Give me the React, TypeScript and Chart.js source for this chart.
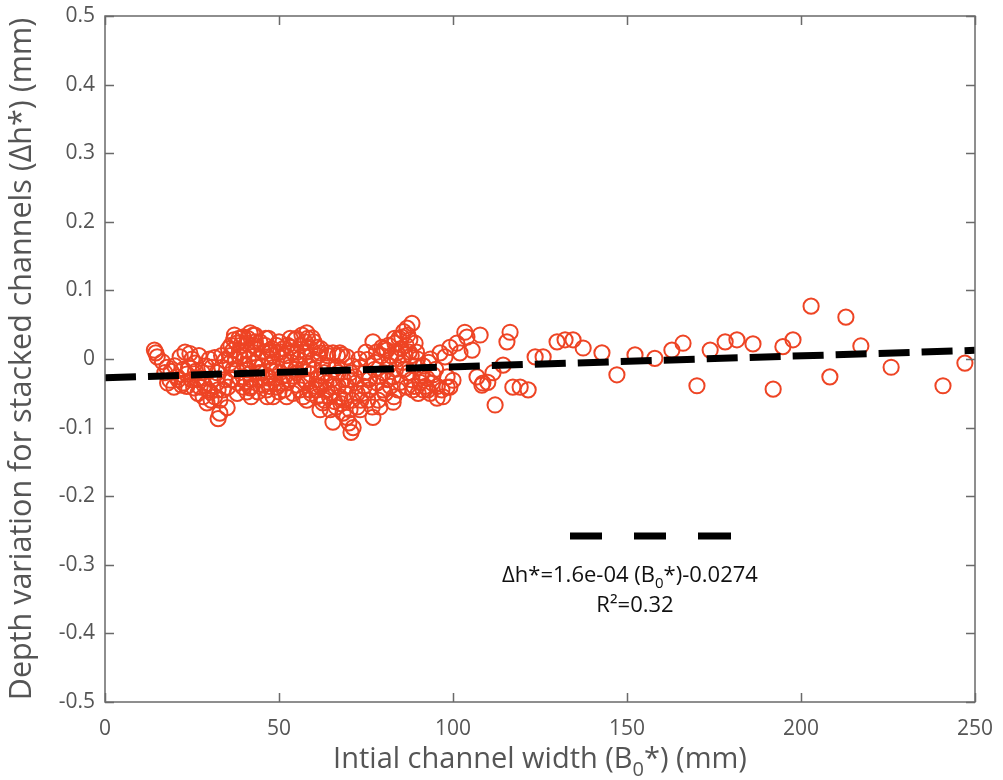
import React, { useEffect, useRef } from 'react';
import { Chart, registerables } from 'chart.js';

Chart.register(...registerables);

const FONT = '"Open Sans", "DejaVu Sans", sans-serif';

// Initial channel width B0* (mm) and depth variation Δh* (mm)
const widthMm = [
  14.2, 15.0, 14.6, 16.5, 17.8, 17.2, 18.7, 19.8, 20.7, 22.5,
  21.6, 23.0, 24.4, 25.9, 27.3, 26.7, 28.2, 29.3, 30.2, 32.2,
  32.2, 30.7, 33.6, 34.5, 33.0, 32.5, 35.1, 37.9, 39.7, 36.8,
  38.8, 40.8, 35.9, 37.9, 39.7, 35.3, 39.7, 40.8, 19.0, 21.0,
  23.5, 24.8, 26.0, 27.8, 29.0, 28.5, 24.0, 22.0, 25.5, 31.0,
  31.5, 34.0, 33.0, 30.0, 27.0, 31.5,
  41.7, 43.1, 39.7, 40.8, 44.5, 47.4, 49.4, 46.6, 42.8, 53.2,
  54.6, 56.6, 58.0, 59.5, 60.9, 61.8, 57.5, 55.5, 63.8, 65.5,
  67.5, 51.1, 53.2, 43.7, 40.8, 41.7, 43.9, 46.6, 48.3, 45.4,
  49.4, 52.3, 55.2, 58.0, 58.9, 60.9, 62.6, 64.7, 65.5, 63.8,
  67.5, 61.8, 66.4, 68.4, 45.0, 47.0, 49.0, 51.0, 53.0, 55.0,
  57.0, 59.0, 61.0, 63.0, 65.0, 67.0, 44.0, 48.0, 52.0, 56.0,
  60.0, 64.0, 66.0, 46.0, 50.0, 42.0, 50.0, 54.0, 57.0, 62.0,
  59.0, 47.0,
  88.2, 86.8, 85.3, 87.6, 89.1, 83.3, 77.0, 79.6, 81.0, 83.9,
  86.2, 75.3, 73.3, 69.5, 68.1, 71.8, 76.1, 78.2, 79.9, 82.8,
  84.8, 86.8, 90.5, 92.5, 94.3, 96.3, 99.1, 93.4, 95.4, 91.4,
  88.5, 82.8, 79.0, 77.0, 73.3, 70.4, 71.3, 70.7, 70.1, 68.7,
  98.3, 83.0, 84.0, 81.5, 77.5, 74.5, 72.5, 69.5, 75.5, 89.0,
  91.0, 93.0, 95.0, 87.0, 85.0, 88.0, 80.0, 73.0, 70.5,
  97.7, 98.3, 100.0, 99.1, 96.8, 97.1, 101.1, 102.0, 103.4, 104.0,
  105.5, 107.8, 106.9, 108.6, 110.0, 111.5, 114.4, 116.4, 115.5, 112.1,
  117.2, 119.3, 121.6, 108.3,
  123.6, 125.9, 129.9, 132.2, 134.5, 137.4, 142.8, 147.1, 152.3, 158.0,
  162.9, 166.1, 170.1, 173.9, 178.2, 181.6, 186.2, 192.0, 194.8, 197.7,
  202.9, 208.3, 212.9, 217.2, 225.9, 240.8, 247.1,
  36.2, 37.0, 38.5, 41.0, 42.5, 43.5, 36.5, 38.0, 41.5, 43.0,
  44.5, 42.0, 37.5, 40.0,
  45.5, 46.5, 48.0, 49.0, 50.5, 51.5, 52.5, 54.0, 55.0, 56.0,
  57.5, 58.5, 60.0, 61.0, 62.0, 63.0, 64.0, 65.0, 66.0, 67.0,
  48.5, 53.5, 58.0, 62.5,
  68.5, 69.5, 71.0, 72.0, 73.5, 74.5, 76.0, 77.5, 78.5, 79.5,
  71.0, 75.0,
  80.5, 81.5, 82.0, 83.5, 84.5, 85.5, 86.5, 87.0, 88.0, 89.5,
  90.0, 91.5, 92.0, 94.0, 95.5, 93.5,
  18.0, 20.0, 22.5, 23.5, 26.5, 28.0, 29.5, 30.5, 32.5, 34.5,
  33.5, 25.0,
  35.5, 36.8, 37.2, 38.2, 39.0, 40.2, 41.2, 42.2, 43.2, 44.2,
  38.6, 42.6, 40.5, 36.0,
  45.2, 46.2, 47.2, 48.2, 49.2, 50.2, 51.2, 52.2, 53.2, 54.2,
  55.2, 56.2, 57.2, 58.2, 59.2, 60.2, 61.2, 46.8, 50.8, 54.8,
  57.8, 60.6,
  62.2, 63.5, 64.5, 65.8, 66.8, 67.8, 69.0, 70.0, 72.5, 74.0,
  75.8, 76.8,
  78.0, 79.0, 80.2, 81.2, 82.2, 83.2, 84.2, 85.8, 86.0, 87.4,
  88.8, 89.8, 90.8, 92.8,
];

const depthVar = [
  0.013, 0.003, 0.009, -0.004, -0.012, -0.020, -0.031, -0.041, -0.026, -0.035,
  0.003, 0.010, 0.008, -0.006, -0.041, -0.050, -0.055, -0.064, -0.048, -0.035,
  -0.020, -0.012, -0.012, -0.002, -0.079, -0.087, -0.071, 0.023, 0.032, 0.013,
  0.003, 0.013, -0.006, -0.017, -0.026, -0.041, -0.041, -0.048, -0.018, -0.030,
  -0.022, -0.030, -0.018, -0.028, -0.010, -0.038, -0.012, -0.038, -0.042, -0.030,
  -0.055, -0.045, -0.060, 0.000, 0.005, 0.002,
  0.038, 0.035, 0.032, 0.023, 0.025, 0.013, 0.009, 0.003, 0.009, 0.017,
  0.028, 0.035, 0.038, 0.031, 0.017, 0.009, 0.003, -0.001, 0.009, 0.009,
  0.009, -0.006, -0.012, -0.012, -0.016, -0.042, -0.048, -0.055, -0.055, -0.038,
  -0.041, -0.035, -0.038, -0.035, -0.045, -0.055, -0.064, -0.074, -0.092, -0.045,
  -0.055, -0.074, -0.070, -0.079, -0.020, -0.028, -0.018, -0.025, -0.030, -0.020,
  -0.015, -0.022, -0.030, -0.020, -0.030, -0.040, 0.000, -0.005, 0.005, -0.008,
  0.000, -0.010, -0.015, 0.020, 0.025, -0.030, -0.048, -0.050, -0.055, -0.040,
  0.015, 0.030,
  0.052, 0.045, 0.032, 0.028, 0.023, 0.023, 0.025, 0.017, 0.013, 0.009,
  0.006, -0.001, -0.012, 0.003, 0.006, -0.026, -0.028, -0.035, -0.045, -0.026,
  -0.034, -0.041, -0.034, -0.028, -0.023, 0.009, 0.017, -0.050, -0.057, -0.045,
  -0.045, -0.063, -0.070, -0.085, -0.074, -0.074, -0.100, -0.107, -0.093, -0.060,
  -0.041, -0.055, 0.000, -0.010, -0.015, -0.040, -0.050, -0.040, -0.060, -0.010,
  -0.020, -0.005, -0.015, -0.020, 0.015, 0.005, -0.020, 0.000, -0.020,
  0.003, -0.026, -0.031, -0.041, -0.045, -0.055, 0.023, 0.009, 0.039, 0.032,
  0.013, 0.035, -0.026, -0.035, -0.034, -0.020, -0.009, 0.039, 0.025, -0.067,
  -0.041, -0.041, -0.045, -0.038,
  0.003, 0.003, 0.025, 0.028, 0.028, 0.016, 0.009, -0.023, 0.006, 0.001,
  0.013, 0.023, -0.039, 0.013, 0.025, 0.028, 0.022, -0.044, 0.018, 0.028,
  0.077, -0.026, 0.061, 0.019, -0.012, -0.039, -0.006,
  0.020, 0.028, 0.030, 0.030, 0.020, 0.015, -0.030, -0.050, -0.022, -0.005,
  -0.030, -0.055, 0.000, 0.005,
  0.010, -0.045, 0.015, -0.035, 0.010, -0.045, 0.020, 0.010, 0.030, -0.045,
  0.025, -0.010, 0.025, -0.045, 0.015, -0.060, 0.005, -0.050, -0.062, -0.020,
  -0.012, -0.005, -0.060, -0.008,
  -0.030, -0.085, -0.060, -0.035, -0.060, -0.020, -0.045, -0.005, -0.060, 0.005,
  -0.010, 0.010,
  -0.050, 0.020, -0.040, -0.015, 0.030, -0.005, 0.020, 0.035, -0.030, 0.010,
  -0.050, -0.010, -0.040, -0.035, -0.040, 0.000,
  -0.035, -0.010, -0.015, -0.040, -0.030, -0.020, -0.045, -0.060, -0.045, -0.030,
  0.005, 0.000,
  0.015, -0.015, 0.035, -0.035, 0.020, -0.010, 0.000, -0.040, 0.025, -0.020,
  0.010, 0.035, -0.033, 0.005,
  -0.010, 0.030, -0.040, 0.005, 0.020, -0.020, 0.015, -0.055, 0.030, -0.025,
  0.010, 0.020, -0.030, 0.030, -0.050, -0.015, 0.005, -0.025, -0.035, -0.015,
  0.010, -0.040,
  -0.025, -0.035, -0.055, -0.040, 0.005, -0.065, -0.050, -0.030, -0.070, -0.050,
  -0.030, -0.070,
  0.010, -0.025, 0.015, -0.030, 0.005, 0.030, -0.045, 0.040, -0.015, 0.010,
  -0.040, 0.000, -0.025, -0.045,
];

// Linear fit end points
const fitX = [0, 250];
const fitY = [-0.0274, 0.0126];

const xTickValues = [0, 50, 100, 150, 200, 250];
const yTickValues = [-0.5, -0.4, -0.3, -0.2, -0.1, 0, 0.1, 0.2, 0.3, 0.4, 0.5];

const xTitleParts = [{ t: 'Intial channel width (B' }, { t: '0', sub: true }, { t: '*) (mm)' }];
const yTitleParts = [{ t: 'Depth variation for stacked channels (\u0394h*) (mm)' }];
const fitLabelParts = [{ t: '\u0394h*=1.6e-04 (B' }, { t: '0', sub: true }, { t: '*)-0.0274' }];
const r2LabelParts = [{ t: 'R\u00B2=0.32' }];

const MARKER_COLOR = '#ee4424';
const AXIS_COLOR = '#6a6a6a';
const LABEL_COLOR = '#555555';

type Part = { t: string; sub?: boolean };

function drawRich(ctx: CanvasRenderingContext2D, parts: Part[], cx: number, baseY: number, size: number, color: string) {
  const subSize = Math.round(size * 0.68);
  const widths = parts.map((p) => {
    ctx.font = `${p.sub ? subSize : size}px ${FONT}`;
    return ctx.measureText(p.t).width;
  });
  const total = widths.reduce((a, b) => a + b, 0);
  let x = cx - total / 2;
  ctx.fillStyle = color;
  ctx.textAlign = 'left';
  ctx.textBaseline = 'alphabetic';
  parts.forEach((p, i) => {
    ctx.font = `${p.sub ? subSize : size}px ${FONT}`;
    ctx.fillText(p.t, x, p.sub ? baseY + size * 0.28 : baseY);
    x += widths[i];
  });
}

const decorPlugin = {
  id: 'decor',
  afterDatasetsDraw(chart: any) {
    const { ctx, chartArea } = chart;
    const { left, right, top, bottom } = chartArea;
    const xs = chart.scales.x;
    const ys = chart.scales.y;
    ctx.save();
    // box
    ctx.strokeStyle = AXIS_COLOR;
    ctx.lineWidth = 1.5;
    ctx.strokeRect(left, top, right - left, bottom - top);
    // inward ticks
    const tl = 9;
    ctx.beginPath();
    xTickValues.forEach((v) => {
      const px = Math.round(xs.getPixelForValue(v)) + 0.5;
      ctx.moveTo(px, bottom);
      ctx.lineTo(px, bottom - tl);
      ctx.moveTo(px, top);
      ctx.lineTo(px, top + tl);
    });
    yTickValues.forEach((v) => {
      const py = Math.round(ys.getPixelForValue(v)) + 0.5;
      ctx.moveTo(left, py);
      ctx.lineTo(left + tl, py);
      ctx.moveTo(right, py);
      ctx.lineTo(right - tl, py);
    });
    ctx.stroke();

    // legend sample
    ctx.strokeStyle = '#000';
    ctx.lineWidth = 7;
    ctx.lineCap = 'butt';
    ctx.beginPath();
    [[570, 602], [634, 666], [698, 731]].forEach(([a, b]) => {
      ctx.moveTo(a, 536);
      ctx.lineTo(b, 536);
    });
    ctx.stroke();
    drawRich(ctx, fitLabelParts, 630, 582, 22, '#111');
    drawRich(ctx, r2LabelParts, 635, 612, 22, '#111');

    // axis titles
    drawRich(ctx, xTitleParts, (left + right) / 2, 768, 29, LABEL_COLOR);
    ctx.translate(31, (top + bottom) / 2);
    ctx.rotate(-Math.PI / 2);
    drawRich(ctx, yTitleParts, 0, 0, 30.5, LABEL_COLOR);
    ctx.restore();
  },
};

export default function App() {
  const canvasRef = useRef<HTMLCanvasElement | null>(null);

  useEffect(() => {
    document.body.style.margin = '0';
    const canvas = canvasRef.current;
    if (!canvas) return;
    const scatterData = widthMm.map((x, i) => ({ x, y: depthVar[i] }));
    const fitData = fitX.map((x, i) => ({ x, y: fitY[i] }));
    const chart = new Chart(canvas, {
      type: 'scatter',
      data: {
        datasets: [
          {
            type: 'line',
            label: 'fit',
            data: fitData,
            borderColor: '#000',
            borderWidth: 7,
            borderDash: [31, 12],
            pointRadius: 0,
            fill: false,
            order: 0,
          },
          {
            label: 'data',
            data: scatterData,
            pointStyle: 'circle',
            pointRadius: 7.6,
            borderWidth: 2,
            borderColor: MARKER_COLOR,
            backgroundColor: 'rgba(0,0,0,0)',
            order: 1,
          },
        ],
      } as any,
      options: {
        responsive: false,
        animation: false,
        devicePixelRatio: 1,
        layout: { padding: { top: 16, right: 28, left: 0, bottom: 0 } },
        plugins: { legend: { display: false }, tooltip: { enabled: false } },
        scales: {
          x: {
            type: 'linear',
            min: 0,
            max: 250,
            afterFit: (s: any) => {
              s.height = 78;
              s.paddingLeft = 0;
              s.paddingRight = 0;
            },
            afterBuildTicks: (s: any) => { s.ticks = xTickValues.map((v) => ({ value: v })); },
            grid: { display: false, drawTicks: false },
            border: { display: false },
            ticks: {
              color: LABEL_COLOR,
              font: { family: FONT, size: 21 },
              padding: 14,
              maxRotation: 0,
              callback: (v: any) => String(v),
            },
          },
          y: {
            type: 'linear',
            min: -0.5,
            max: 0.5,
            afterFit: (s: any) => {
              s.width = 105;
              s.paddingTop = 0;
              s.paddingBottom = 0;
            },
            afterBuildTicks: (s: any) => { s.ticks = yTickValues.map((v) => ({ value: v })); },
            grid: { display: false, drawTicks: false },
            border: { display: false },
            ticks: {
              color: LABEL_COLOR,
              font: { family: FONT, size: 21 },
              padding: 10,
              callback: (v: any) => (Math.abs(v) < 1e-9 ? '0' : Number(v).toFixed(1)),
            },
          },
        },
      },
      plugins: [decorPlugin],
    } as any);
    return () => chart.destroy();
  }, []);

  return (
    <canvas
      ref={canvasRef}
      width={1003}
      height={780}
      style={{ display: 'block', width: 1003, height: 780 }}
    />
  );
}
